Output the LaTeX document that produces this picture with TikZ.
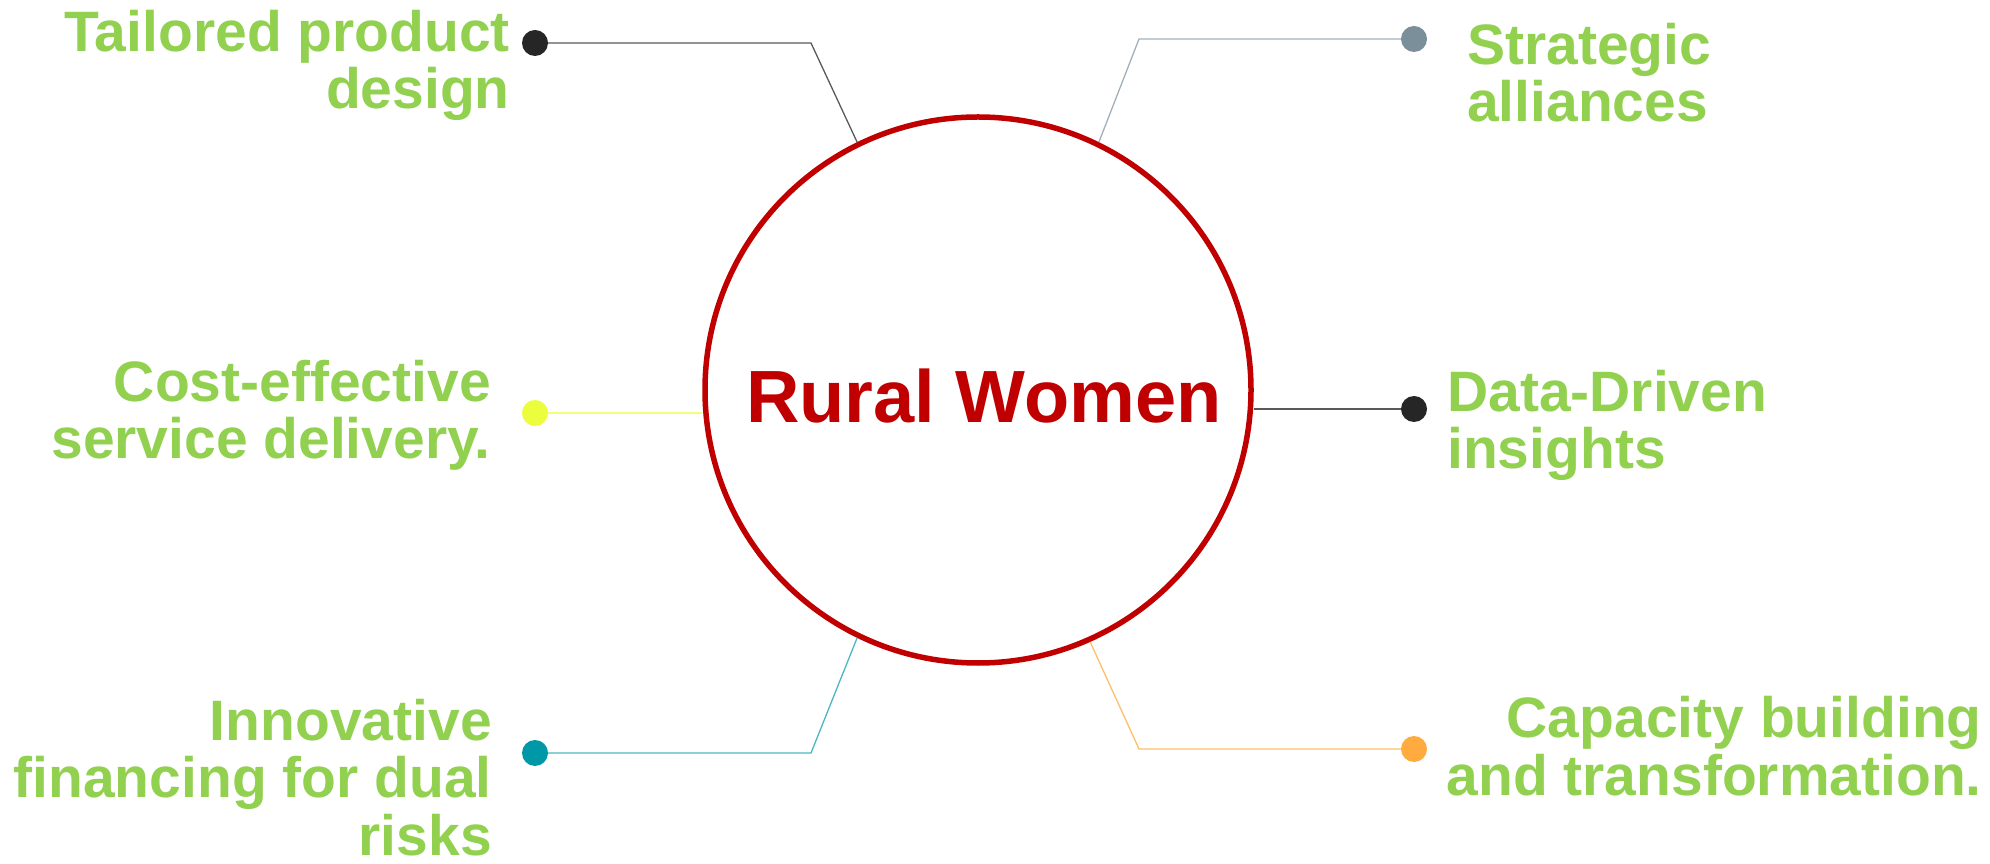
\documentclass[tikz,border=0pt]{standalone}
\usepackage{fontspec}
\setmainfont{Liberation Sans}
\usepackage{xcolor}
\usepackage{tikz}
\usetikzlibrary{positioning}

\definecolor{leafgreen}{HTML}{92D050}
\definecolor{ruralred}{HTML}{C00000}
\definecolor{darkdot}{HTML}{262626}
\definecolor{darkline}{HTML}{595959}
\definecolor{slatedot}{HTML}{7B8F9B}
\definecolor{slateline}{HTML}{A0B0BB}
\definecolor{limedot}{HTML}{EBFD3C}
\definecolor{limeline}{HTML}{F3FF7A}
\definecolor{tealdot}{HTML}{0097A7}
\definecolor{tealline}{HTML}{4DB6C2}
\definecolor{orangedot}{HTML}{FFAB40}
\definecolor{orangeline}{HTML}{FFBE6A}

\begin{document}
\begin{tikzpicture}[x=1pt,y=1pt,
    itemtext/.style={text=leafgreen, inner sep=0pt, font=\fontsize{57}{57.5}\selectfont\bfseries},
    endpoint/.style={circle, fill=#1, minimum size=26pt, inner sep=0pt},
    link/.style={draw=#1, line width=1.3pt}]
            \useasboundingbox (0,0) rectangle (1990,863);

            \node[circle, draw=ruralred, line width=5.5pt, minimum size=546pt, inner sep=0pt] (centre) at (978,473) {};
            \node[text=ruralred, anchor=base, font=\fontsize{74}{74}\selectfont\bfseries] (title) at (984,440) {Rural Women};

            \node[itemtext, align=right, anchor=base east] (tailored) at (510,754) {Tailored product\\design};
            \node[itemtext, align=left, anchor=base west] (strategic) at (1467,741) {Strategic\\alliances};
            \node[itemtext, align=right, anchor=base east] (costeff) at (491,404) {Cost-effective\\service delivery.};
            \node[itemtext, align=left, anchor=base west] (datadriven) at (1447,394) {Data-Driven\\insights};
            \node[itemtext, align=right, anchor=base east] (innovative) at (492,8) {Innovative\\financing for dual\\risks};
            \node[itemtext, align=right, anchor=base east] (capacity) at (1982,68) {Capacity building\\and transformation.};

            \node[endpoint=darkdot] (tdot) at (535,820) {};
            \node[endpoint=slatedot] (sdot) at (1414,824) {};
            \node[endpoint=limedot] (cdot) at (535,450) {};
            \node[endpoint=darkdot] (ddot) at (1414,454) {};
            \node[endpoint=tealdot] (idot) at (535,110) {};
            \node[endpoint=orangedot] (kdot) at (1414,114) {};

            \coordinate (tbend) at (811,820);
            \coordinate (sbend) at (1139,824);
            \coordinate (ibend) at (811,110);
            \coordinate (kbend) at (1139,114);

            \draw[link=darkline] (tdot) -- (tbend) -- (centre.116.7);
            \draw[link=slateline] (sdot) -- (sbend) -- (centre.64.7);
            \draw[link=limeline] (cdot) -- (centre.west |- cdot);
            \draw[link=darkline] (ddot) -- (centre.east |- ddot);
            \draw[link=tealline] (idot) -- (ibend) -- (centre.244.5);
            \draw[link=orangeline] (kdot) -- (kbend) -- (centre.294.8);
        \end{tikzpicture}
\end{document}
